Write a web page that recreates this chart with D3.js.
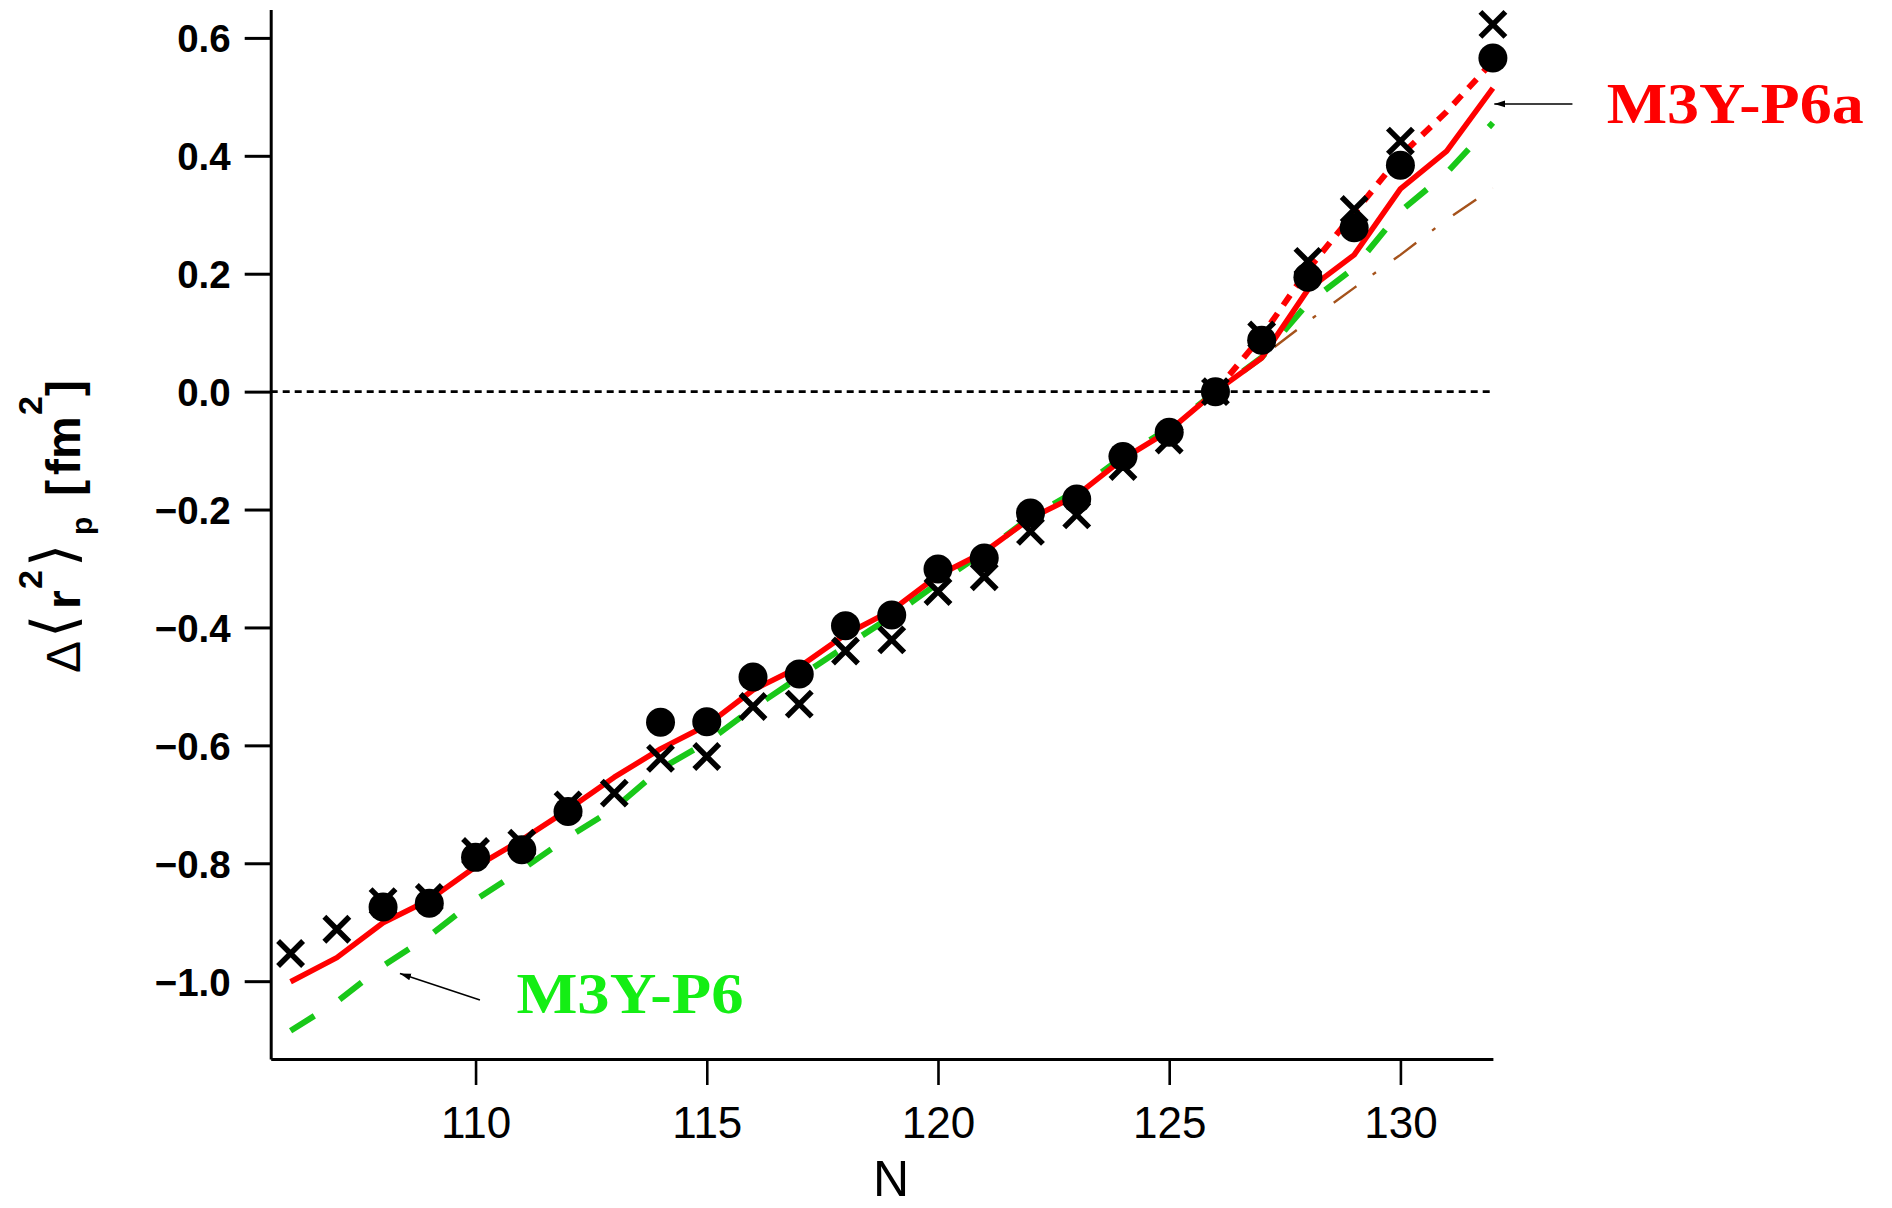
<!DOCTYPE html>
<html>
<head>
<meta charset="utf-8">
<script src="https://cdn.jsdelivr.net/npm/d3@7"></script>
<style>
  body { margin: 0; background: #fff; }
  svg { display: block; }
</style>
</head>
<body>
<svg id="chart" width="1892" height="1208"></svg>
<script>
// Neutron number N and the isotope shifts Δ<r²>_p [fm²] (relative to N = 126)
const neutronNumbers = d3.range(106, 133);

// Measured values, two data sets (crosses and filled dots)
const measuredCross = [
  -0.953, -0.912, -0.865, -0.858, -0.780, -0.766, -0.701, -0.681, -0.622, -0.619,
  -0.534, -0.530, -0.440, -0.421, -0.339, -0.314, -0.237, -0.209, -0.127, -0.082,
   0.000,  0.096,  0.221,  0.309,  0.425,  null,   0.623
];
const measuredDot = [
   null,   null,  -0.874, -0.868, -0.790, -0.777, -0.712,  null,  -0.561, -0.560,
  -0.484, -0.479, -0.397, -0.379, -0.301, -0.282, -0.206, -0.182, -0.110, -0.069,
   0.000,  0.087,  0.194,  0.278,  0.384,  null,   0.566
];

// Calculated curves
const m3yP6a = [
  -1.001, -0.960, -0.901, -0.862, -0.806, -0.760, -0.709, -0.654, -0.606, -0.566,
  -0.506, -0.467, -0.412, -0.371, -0.312, -0.272, -0.215, -0.176, -0.114, -0.066,
   0.000,  0.057,  0.173,  0.232,  0.344,  0.408,  0.515
];
const m3yP6aVariant = [
   null, null, null, null, null, null, null, null, null, null,
   null, null, null, null, null, null, null, null, null, null,
   0.000, 0.094, 0.207, 0.303, 0.400, 0.475, 0.560
];
const m3yP6 = [
  -1.084, -1.035, -0.974, -0.923, -0.862, -0.811, -0.756, -0.707, -0.640, -0.595,
  -0.537, -0.484, -0.432, -0.381, -0.325, -0.272, -0.213, -0.168, -0.110, -0.062,
   0.000,  0.058,  0.150,  0.210,  0.306,  0.371,  0.456
];
const linearRef = [
   null, null, null, null, null, null, null, null, null, null,
   null, null, null, null, null, null, null, null, null, null,
   0.000, 0.059, 0.119, 0.176, 0.232, 0.292, 0.345
];

const xTicks = [110, 115, 120, 125, 130];
const yTicks = [-1.0, -0.8, -0.6, -0.4, -0.2, 0.0, 0.2, 0.4, 0.6];

const svg = d3.select("#chart");

const x = d3.scaleLinear().domain([105.57, 132]).range([270.7, 1492.9]);
const y = d3.scaleLinear().domain([-1.132, 0.648]).range([1059, 9.6]);

const pts = arr => neutronNumbers.map((n, i) => ({ n, v: arr[i] }));
const line = d3.line()
  .defined(d => d.v != null)
  .x(d => x(d.n))
  .y(d => y(d.v));

// Zero reference line
svg.append("line")
  .attr("x1", x.range()[0]).attr("x2", x(132))
  .attr("y1", y(0)).attr("y2", y(0))
  .attr("stroke", "#000").attr("stroke-width", 2.6)
  .attr("stroke-dasharray", "7,5");

// Curves
svg.append("path").datum(pts(linearRef))
  .attr("d", line).attr("fill", "none")
  .attr("stroke", "#a5521b").attr("stroke-width", 2.4)
  .attr("stroke-dasharray", "28,20,4,22");

svg.append("path").datum(pts(m3yP6))
  .attr("d", line).attr("fill", "none")
  .attr("stroke", "#19c819").attr("stroke-width", 6)
  .attr("stroke-dasharray", "28,30");

svg.append("path").datum(pts(m3yP6aVariant))
  .attr("d", line).attr("fill", "none")
  .attr("stroke", "#ff0000").attr("stroke-width", 6)
  .attr("stroke-dasharray", "12,10");

svg.append("path").datum(pts(m3yP6a))
  .attr("d", line).attr("fill", "none")
  .attr("stroke", "#ff0000").attr("stroke-width", 5.5)
  .attr("stroke-linejoin", "round");

// Crosses
const h = 12.5;
svg.append("g").selectAll("path")
  .data(pts(measuredCross).filter(d => d.v != null))
  .join("path")
  .attr("transform", d => `translate(${x(d.n)},${y(d.v)})`)
  .attr("d", `M${-h},${-h}L${h},${h}M${-h},${h}L${h},${-h}`)
  .attr("stroke", "#000").attr("stroke-width", 5.5).attr("fill", "none");

// Filled dots
svg.append("g").selectAll("circle")
  .data(pts(measuredDot).filter(d => d.v != null))
  .join("circle")
  .attr("cx", d => x(d.n)).attr("cy", d => y(d.v))
  .attr("r", 14.5).attr("fill", "#000");

// Axes
const gx = svg.append("g")
  .attr("transform", `translate(0,${y.range()[0]})`)
  .call(d3.axisBottom(x).tickValues(xTicks).tickSize(26).tickSizeOuter(0)
    .tickFormat(d3.format("d")));
gx.select(".domain").attr("stroke", "#000").attr("stroke-width", 3);
gx.selectAll(".tick line").attr("stroke", "#000").attr("stroke-width", 2.6);
gx.selectAll(".tick text")
  .attr("y", 79).attr("dy", 0)
  .attr("fill", "#000")
  .style("font-family", "'Liberation Sans', Arial, sans-serif")
  .style("font-size", "44px");

const gy = svg.append("g")
  .attr("transform", `translate(${x.range()[0]},0)`)
  .call(d3.axisLeft(y).tickValues(yTicks).tickSize(26).tickSizeOuter(0)
    .tickFormat(d3.format(".1f")));
gy.select(".domain").attr("stroke", "#000").attr("stroke-width", 3);
gy.selectAll(".tick line").attr("stroke", "#000").attr("stroke-width", 3);
gy.selectAll(".tick text")
  .attr("x", -40).attr("dy", "0.36em")
  .attr("fill", "#000")
  .style("font-family", "'Liberation Sans', Arial, sans-serif")
  .style("font-weight", "bold")
  .style("font-size", "38.5px");

// Axis titles
svg.append("text")
  .attr("x", 891).attr("y", 1196)
  .attr("text-anchor", "middle")
  .style("font-family", "'Liberation Sans', Arial, sans-serif")
  .style("font-size", "50px")
  .text("N");

const yTitle = svg.append("text")
  .attr("transform", "translate(80,672) rotate(-90)")
  .style("font-family", "'Liberation Sans', Arial, sans-serif")
  .style("font-size", "48px")
  .attr("fill", "#000");
const parts = [
  { t: "Δ", u: -1, v: 0, size: 48, weight: "normal" },
  { t: "⟨", u: 34, v: -6, size: 60, weight: "normal", family: "'DejaVu Sans', sans-serif" },
  { t: "r", u: 63, v: 0, size: 48, weight: "bold" },
  { t: "2", u: 83, v: -38, size: 34, weight: "bold" },
  { t: "⟩", u: 105, v: -6, size: 60, weight: "normal", family: "'DejaVu Sans', sans-serif" },
  { t: "p", u: 137, v: 12, size: 30, weight: "bold" },
  { t: "[", u: 176, v: 0, size: 48, weight: "bold" },
  { t: "fm", u: 197, v: 0, size: 48, weight: "bold" },
  { t: "2", u: 257, v: -38, size: 34, weight: "bold" },
  { t: "]", u: 276, v: 0, size: 48, weight: "bold" }
];
yTitle.selectAll("tspan").data(parts).join("tspan")
  .attr("x", d => d.u).attr("y", d => d.v)
  .style("font-size", d => d.size + "px")
  .style("font-weight", d => d.weight)
  .style("font-family", d => d.family || null)
  .text(d => d.t);

// Curve labels with pointer arrows
const defs = svg.append("defs");
defs.append("marker")
  .attr("id", "arrowhead")
  .attr("markerUnits", "userSpaceOnUse")
  .attr("markerWidth", 12).attr("markerHeight", 8)
  .attr("refX", 11).attr("refY", 4)
  .attr("orient", "auto")
  .append("path").attr("d", "M0,0.5L11,4L0,7.5Z").attr("fill", "#000");

const annotations = [
  { text: "M3Y-P6a", color: "#ff0000", tx: 134.46, ty: 0.456, len: 257,
    from: [133.72, 0.488], to: [132.03, 0.488] },
  { text: "M3Y-P6", color: "#14ee14", tx: 110.885, ty: -1.054, len: 227,
    from: [110.095, -1.032], to: [108.365, -0.987] }
];
annotations.forEach(a => {
  svg.append("line")
    .attr("x1", x(a.from[0])).attr("y1", y(a.from[1]))
    .attr("x2", x(a.to[0])).attr("y2", y(a.to[1]))
    .attr("stroke", "#000").attr("stroke-width", 1.5)
    .attr("marker-end", "url(#arrowhead)");
  svg.append("text")
    .attr("x", x(a.tx)).attr("y", y(a.ty))
    .attr("fill", a.color)
    .attr("textLength", a.len).attr("lengthAdjust", "spacingAndGlyphs")
    .style("font-family", "'Liberation Serif', 'Times New Roman', serif")
    .style("font-weight", "bold")
    .style("font-size", "56px")
    .text(a.text);
});
</script>
</body>
</html>
